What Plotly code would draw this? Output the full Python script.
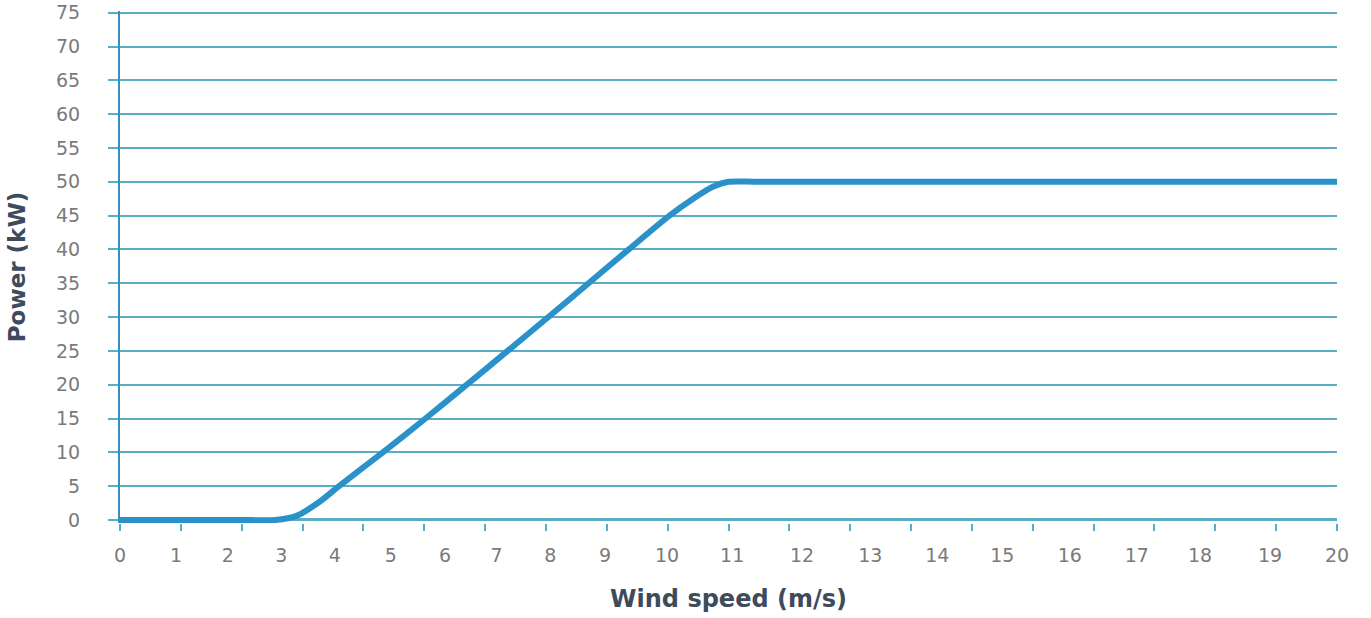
import plotly.graph_objects as go

# Power curve (x in the scale of the evenly spaced tick marks)
wind_speed = [0, 1, 2, 2.55, 2.9, 3.25, 3.6, 4.32, 5.02, 5.70, 6.37, 7.04, 7.70, 8.36, 9.03, 9.42, 9.75, 10.0, 10.5, 15, 20]
power_kw = [0, 0, 0, 0, 0.6, 2.5, 5, 10, 15, 20, 25, 30, 35, 40, 45, 47.5, 49.3, 50, 50, 50, 50]

tick_marks = list(range(0, 21))
tick_labels = [str(v) for v in range(0, 21)]
# where the reference prints each x label (it drifts from the tick marks)
label_at = [0, 0.92, 1.77, 2.65, 3.53, 4.45, 5.34, 6.19, 7.07, 7.97, 8.99,
            10.06, 11.21, 12.33, 13.43, 14.5, 15.61, 16.71, 17.75, 18.9, 20.0]
y_ticks = list(range(0, 76, 5))

GRID = "#5aaec4"
AXIS = "#3a8cc0"
CURVE = "#2a91c9"
LABEL = "#7a7a7a"
TITLE = "#3d4b5c"
FONT = "DejaVu Sans"

fig = go.Figure()
fig.add_trace(go.Scatter(
    x=wind_speed, y=power_kw, mode="lines",
    line=dict(color=CURVE, width=6, shape="spline", smoothing=0.8),
    showlegend=False, hoverinfo="skip", xaxis="x", yaxis="y"))
# invisible trace to attach the label axis
fig.add_trace(go.Scatter(x=[0, 20], y=[0, 0], mode="lines",
                         line=dict(width=0, color="rgba(0,0,0,0)"),
                         showlegend=False, hoverinfo="skip", xaxis="x2", yaxis="y"))

fig.update_layout(
    width=1371, height=618,
    margin=dict(l=120, r=34, t=11, b=95, autoexpand=False),
    paper_bgcolor="white", plot_bgcolor="white",
    font=dict(family=FONT, color=LABEL),
    xaxis=dict(range=[0, 20], tickvals=tick_marks, showticklabels=False,
               ticks="outside", ticklen=7, tickwidth=2, tickcolor=GRID,
               showgrid=False, zeroline=False, showline=False, automargin=False),
    xaxis2=dict(range=[0, 20], overlaying="x", side="bottom", anchor="y",
                tickvals=label_at, ticktext=tick_labels, ticks="",
                showgrid=False, zeroline=False, showline=False, automargin=False,
                tickfont=dict(family=FONT, size=19, color=LABEL),
                ticklabelstandoff=19, ticklabeloverflow="allow",
                title=dict(text="<b>Wind speed (m/s)</b>", standoff=25,
                           font=dict(family=FONT, size=24, color=TITLE))),
    yaxis=dict(range=[-0.45, 75.25], tickvals=y_ticks, automargin=False,
               ticks="outside", ticklen=10, tickwidth=2, tickcolor=GRID,
               showgrid=True, gridcolor=GRID, gridwidth=2,
               zeroline=True, zerolinecolor=GRID, zerolinewidth=2.5,
               showline=True, linecolor=AXIS, linewidth=2,
               tickfont=dict(family=FONT, size=19, color=LABEL),
               ticklabelstandoff=24, ticklabeloverflow="allow",
               title=dict(text="<b>Power (kW)</b>", standoff=24,
                          font=dict(family=FONT, size=23, color=TITLE))),
)

fig.write_html("out.html", config={"displayModeBar": False},
               post_script="document.body.style.margin='0';document.body.style.overflow='hidden';")
